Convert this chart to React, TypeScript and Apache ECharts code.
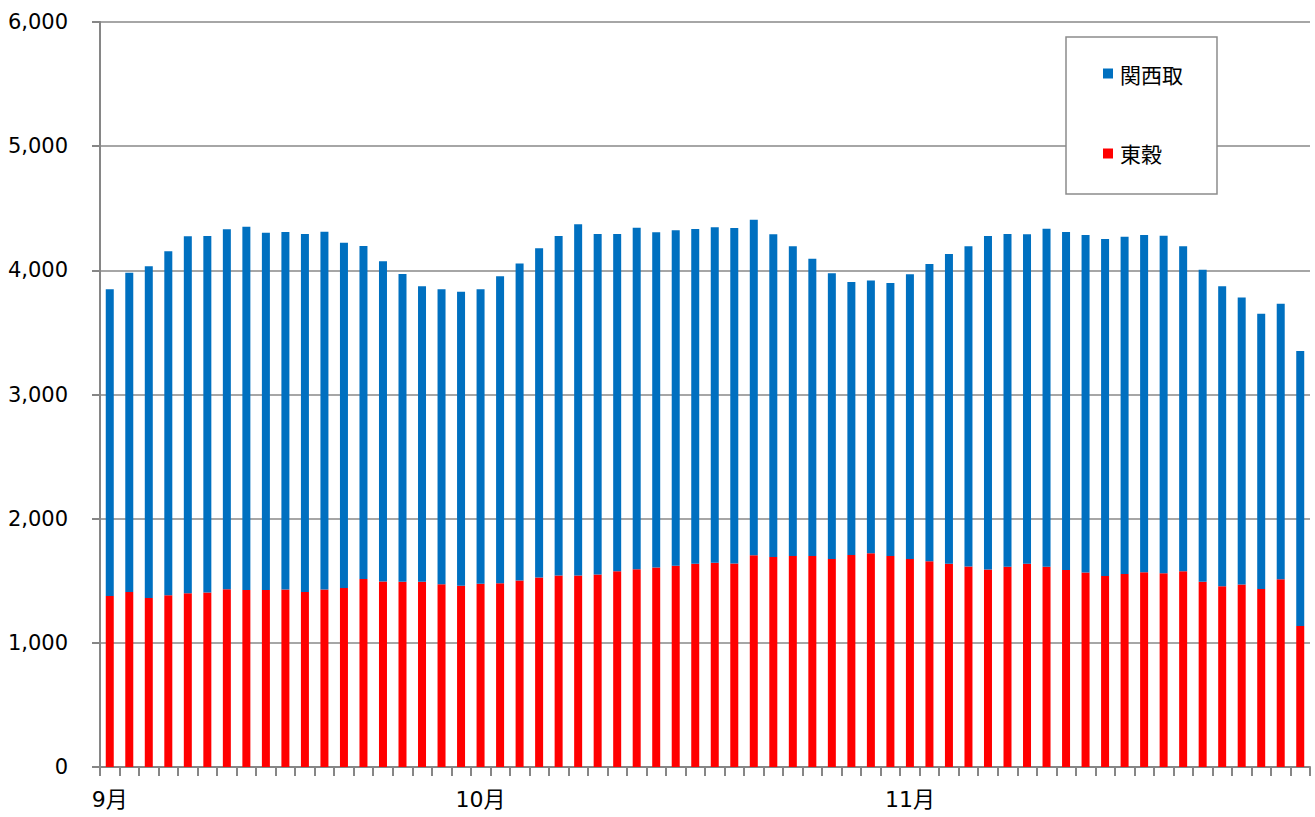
import React, { useEffect, useRef } from "react";
import * as echarts from "echarts";

// 62 trading days, Sept–Nov
const days: string[] = Array.from({ length: 62 }, (_, i) => `d${i + 1}`);
const monthLabels: Record<number, string> = { 0: "9月", 19: "10月", 41: "11月" };

const tokoku: number[] = [
  1378, 1410, 1362, 1384, 1400, 1405, 1432, 1426, 1426, 1429,
  1410, 1429, 1442, 1515, 1494, 1491, 1491, 1472, 1459, 1475,
  1480, 1502, 1526, 1542, 1542, 1550, 1577, 1593, 1607, 1620,
  1636, 1644, 1639, 1706, 1692, 1700, 1700, 1676, 1708, 1722,
  1700, 1676, 1658, 1636, 1615, 1591, 1612, 1636, 1612, 1587,
  1566, 1539, 1555, 1569, 1561, 1577, 1491, 1456, 1470, 1434,
  1512, 1136,
];

const kansai: number[] = [
  2469, 2571, 2670, 2769, 2874, 2871, 2898, 2925, 2877, 2880,
  2882, 2882, 2780, 2681, 2579, 2479, 2380, 2375, 2369, 2372,
  2472, 2554, 2651, 2734, 2829, 2742, 2715, 2750, 2699, 2702,
  2697, 2702, 2702, 2702, 2598, 2493, 2393, 2300, 2198, 2197,
  2198, 2292, 2393, 2495, 2578, 2685, 2680, 2654, 2723, 2722,
  2718, 2713, 2716, 2715, 2718, 2616, 2514, 2415, 2312, 2216,
  2219, 2214,
];

const FONT = '"DejaVu Sans", "Noto Sans CJK JP", sans-serif';
const CJK = '"Noto Sans CJK JP", sans-serif';

export default function App() {
  const ref = useRef<HTMLDivElement>(null);
  useEffect(() => {
    if (!ref.current) return;
    const chart = echarts.init(ref.current, null, { renderer: "svg" });
    chart.setOption({
      animation: false,
      backgroundColor: "#ffffff",
      textStyle: { fontFamily: FONT },
      grid: { left: 100, right: 5, top: 22, bottom: 50, containLabel: false },
      legend: {
        orient: "vertical",
        left: 1066,
        top: 37,
        data: ["関西取", "東穀"],
        icon: "rect",
        itemWidth: 10,
        itemHeight: 10,
        itemGap: 59,
        padding: [26, 34, 30, 37],
        backgroundColor: "#ffffff",
        borderColor: "#8c8c8c",
        borderWidth: 1.5,
        borderRadius: 0,
        textStyle: { fontSize: 21, color: "#000", fontFamily: CJK, padding: [0, 0, 0, 2] },
      },
      xAxis: {
        type: "category",
        data: days,
        boundaryGap: true,
        axisLine: { show: true, lineStyle: { color: "#868686", width: 2 } },
        axisTick: { show: true, interval: 0, length: 9, lineStyle: { color: "#868686", width: 2 } },
        axisLabel: {
          interval: 0,
          margin: 21,
          fontSize: 22,
          color: "#000",
          fontFamily: FONT,
          formatter: (_v: string, i: number) => monthLabels[i] ?? "",
        },
        splitLine: { show: false },
      },
      yAxis: {
        type: "value",
        min: 0,
        max: 6000,
        interval: 1000,
        axisLine: { show: true, lineStyle: { color: "#868686", width: 2 } },
        axisTick: { show: true, length: 8, lineStyle: { color: "#868686", width: 2 } },
        axisLabel: {
          margin: 32,
          fontSize: 21,
          color: "#000",
          fontFamily: FONT,
          formatter: (v: number) => v.toLocaleString("en-US"),
        },
        splitLine: { show: true, lineStyle: { color: "#a6a6a6", width: 2 } },
      },
      series: [
        {
          name: "東穀",
          type: "bar",
          stack: "total",
          data: tokoku,
          barWidth: 8,
          itemStyle: { color: "#ff0000" },
        },
        {
          name: "関西取",
          type: "bar",
          stack: "total",
          data: kansai,
          barWidth: 8,
          itemStyle: { color: "#0070c0" },
        },
      ],
    });
    return () => chart.dispose();
  }, []);
  return (
    <div
      ref={ref}
      style={{ position: "fixed", left: 0, top: 0, width: 1315, height: 817, background: "#fff" }}
    />
  );
}
